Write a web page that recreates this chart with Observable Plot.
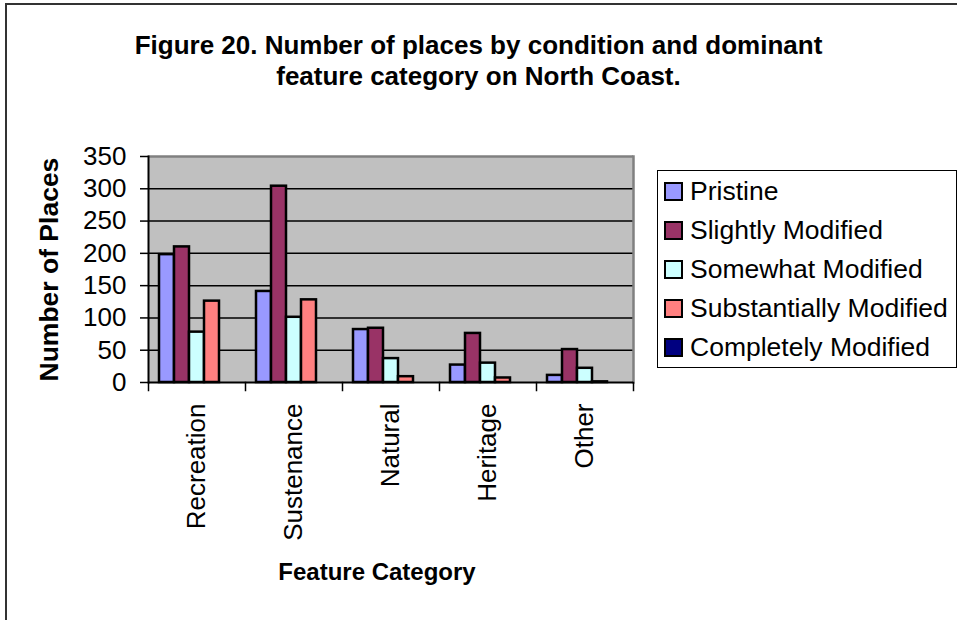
<!DOCTYPE html>
<html>
<head>
<meta charset="utf-8">
<script src="https://cdn.jsdelivr.net/npm/d3@7"></script>
<script src="https://cdn.jsdelivr.net/npm/@observablehq/plot@0.6"></script>
<style>
  body { margin: 0; background: #fff; }
  #wrap { position: relative; width: 957px; height: 620px; overflow: hidden; font-family: "Liberation Sans", Arial, sans-serif; color: #000; }
  #frame { position: absolute; left: 5px; top: 3px; width: 1000px; height: 700px; border-left: 2px solid #333; border-top: 2px solid #333; }
  #title { position: absolute; left: 0; top: 30px; width: 957px; text-align: center; font-weight: bold; font-size: 26px; line-height: 31px; }
  #chart { position: absolute; left: 0; top: 0; }
  #chart svg { overflow: visible; }
  #legend { position: absolute; left: 657px; top: 170px; width: 300px; height: 198px; border: 1.5px solid #000; box-sizing: border-box; background: #fff; }
  .item { position: absolute; left: 6px; height: 30px; display: flex; align-items: center; font-size: 26.5px; white-space: nowrap; }
  .sw { width: 15px; height: 15px; border: 2px solid #000; margin-right: 7px; }
</style>
</head>
<body>
<div id="wrap">
  <div id="frame"></div>
  <div id="title">Figure 20. Number of places by condition and dominant<br>feature category on North Coast.</div>
  <div id="chart"></div>
  <div id="legend"></div>
</div>
<script>
const categories = ["Recreation", "Sustenance", "Natural", "Heritage", "Other"];
const seriesNames = ["Pristine", "Slightly Modified", "Somewhat Modified", "Substantially Modified", "Completely Modified"];
const seriesColors = ["#9999ff", "#993366", "#ccffff", "#ff8080", "#000080"];
const pristine = [198, 141, 82, 27, 11];
const slightlyModified = [210, 304, 84, 76, 51];
const somewhatModified = [78, 101, 37, 30, 22];
const substantiallyModified = [126, 128, 9, 7, 1];
const completelyModified = [0, 0, 0, 0, 0];
const yTicks = [0, 50, 100, 150, 200, 250, 300, 350];

const seriesValues = [pristine, slightlyModified, somewhatModified, substantiallyModified, completelyModified];
const data = categories.flatMap((c, i) => seriesNames.map((s, j) => ({category: c, series: s, value: seriesValues[j][i]})));

const W = 957, H = 620, mL = 146, mR = 322, mT = 156, mB = 238;
const innerH = H - mT - mB;

const plot = Plot.plot({
  width: W, height: H,
  marginLeft: mL, marginRight: mR, marginTop: mT, marginBottom: mB,
  style: {fontFamily: "'Liberation Sans', Arial, sans-serif", fontSize: "26px", color: "#000", background: "transparent"},
  fx: {domain: categories, padding: 0, label: null, axis: null},
  x: {domain: seriesNames, paddingInner: 0, paddingOuter: 0.7, axis: null},
  y: {domain: [0, 350], axis: null},
  color: {domain: seriesNames, range: seriesColors},
  marks: [
    Plot.frame({facet: "super", fill: "#c0c0c0"}),
    Plot.ruleY(yTicks.slice(1, -1), {stroke: "#000", strokeWidth: 1.5}),
    Plot.ruleY([350], {stroke: "#808080", strokeWidth: 2.5}),
    Plot.frame({facet: "super", anchor: "right", stroke: "#808080", strokeWidth: 2.5}),
    Plot.barY(data, {fx: "category", x: "series", y: "value", fill: "series", stroke: "#000", strokeWidth: 2.5}),
    Plot.ruleY([0], {stroke: "#000", strokeWidth: 2}),
    Plot.frame({facet: "super", anchor: "left", stroke: "#000", strokeWidth: 2}),
    Plot.axisY({ticks: yTicks, tickSize: 8, tickPadding: 14, fontSize: 26, tickFormat: d => String(d), stroke: "#000", strokeWidth: 1.5, label: null}),
    Plot.frame({anchor: "left", insetTop: innerH, insetBottom: -8, stroke: "#000", strokeWidth: 1.5}),
    Plot.frame({facet: "super", anchor: "right", insetTop: innerH, insetBottom: -8, stroke: "#000", strokeWidth: 1.5}),
    Plot.axisFx({anchor: "bottom", tickRotate: -90, tickSize: 0, tickPadding: 21, fontSize: 26, label: null}),
    Plot.text(["Number of Places"], {facet: "super", frameAnchor: "bottom-left", textAnchor: "start", rotate: -90, dx: -91, dy: -1, fontSize: 26.5, fontWeight: "bold"}),
    Plot.text(["Feature Category"], {facet: "super", frameAnchor: "bottom", dy: 197, dx: -14, fontSize: 24, fontWeight: "bold"})
  ]
});
document.getElementById("chart").appendChild(plot);

const legend = document.getElementById("legend");
const rowCenters = [20, 59, 98, 137, 176];
seriesNames.forEach((s, i) => {
  const item = document.createElement("div");
  item.className = "item";
  item.style.top = (rowCenters[i] - 15) + "px";
  const sw = document.createElement("div");
  sw.className = "sw";
  sw.style.background = seriesColors[i];
  const t = document.createElement("span");
  t.textContent = s;
  item.appendChild(sw);
  item.appendChild(t);
  legend.appendChild(item);
});
</script>
</body>
</html>
